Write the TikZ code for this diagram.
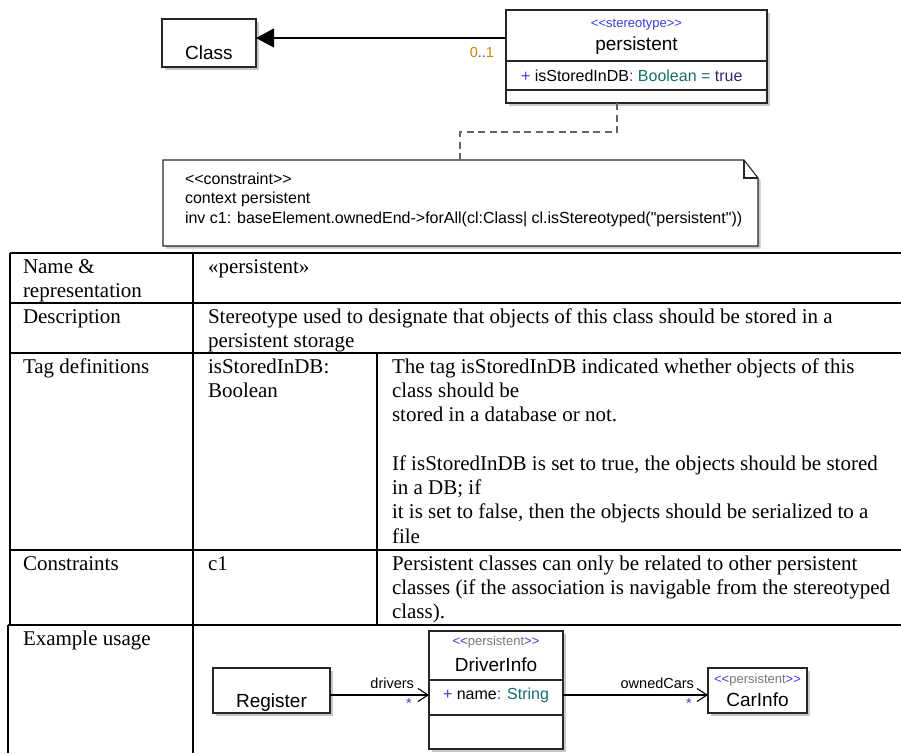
\documentclass[tikz,border=0pt]{standalone}
\usepackage{fontspec}
\setmainfont{Liberation Serif}
\setsansfont{Liberation Sans}
\newfontfamily\notefont{Liberation Sans}[Ligatures=TeXOff]
\usetikzlibrary{arrows.meta,shadows}

\definecolor{stereoblue}{RGB}{60,60,220}
\definecolor{stereogrey}{RGB}{120,120,120}
\definecolor{typeteal}{RGB}{20,110,110}
\definecolor{multorange}{RGB}{200,135,0}
\definecolor{litnavy}{RGB}{45,45,110}
\definecolor{linkgrey}{RGB}{100,100,100}

% stacked lines with a fixed baseline distance; the box baseline is the first line
\newcommand\cellrows[2]{\vtop{\baselineskip=#1\lineskiplimit=-30pt\relax #2}}

\begin{document}
\begin{tikzpicture}[x=1pt,y=-1pt,
  umlbox/.style={draw=black!85, line width=1.1pt, fill=white, inner sep=0pt,
    outer sep=0pt, anchor=north west,
    drop shadow={shadow xshift=2.5pt, shadow yshift=-2.5pt, fill=black!22, opacity=1}},
  boxline/.style={draw=black!85, line width=1.1pt},
  link/.style={draw=black, line width=1.1pt},
  dashlink/.style={draw=linkgrey, line width=1.4pt, dash pattern=on 7pt off 4.5pt},
  gridline/.style={draw=black, line width=1.9pt},
  txt/.style={inner sep=0pt, outer sep=0pt},
  uml/.style={txt, font=\sffamily\fontsize{19}{22}\selectfont},
  umlsmall/.style={txt, font=\sffamily\fontsize{13}{15}\selectfont},
  umlattr/.style={txt, font=\sffamily\fontsize{16}{19}\selectfont},
  umlrole/.style={txt, font=\sffamily\fontsize{14.5}{17}\selectfont},
  cell/.style={txt, anchor=base west, font=\rmfamily\fontsize{21}{24.3}\selectfont},
]
\useasboundingbox (0,0) rectangle (901,753);

% ---------- stereotype definition ----------
\node[umlbox, minimum width=94pt, minimum height=48pt] (cls) at (162,19) {};
\node[uml, anchor=base] (clsname) at (209,59) {Class};

\node[umlbox, minimum width=261pt, minimum height=93pt] (per) at (506,10) {};
\draw[boxline] (506,61) -- (767,61);
\draw[boxline] (506,90) -- (767,90);
\node[umlsmall, anchor=base, text=stereoblue] (perst) at (636.5,27) {<{}<stereotype>{}>};
\node[uml, anchor=base] (pername) at (636.5,50) {persistent};
\node[umlattr, anchor=base west] (perattr) at (521,81)
  {\textcolor{stereoblue}{+} isStoredInDB\textcolor{stereoblue}{:} \textcolor{typeteal}{Boolean =} \textcolor{litnavy}{true}};

\coordinate (assoc) at (400,38);
\draw[link, -{Triangle[length=18pt,width=19pt]}] (per.west |- assoc) -- (cls.east |- assoc);
\node[umlrole, anchor=base east] (mult) at (494,57)
  {\textcolor{multorange}{0}\textcolor{stereoblue}{..}\textcolor{multorange}{1}};

% ---------- constraint note ----------
\node[txt, minimum width=595pt, minimum height=86pt, anchor=north west] (note) at (163,160) {};
\fill[black!22] ([xshift=2.5pt,yshift=-2.5pt]note.north west)
  -- ([xshift=-11.5pt,yshift=-2.5pt]note.north east)
  -- ([xshift=2.5pt,yshift=-20.5pt]note.north east)
  -- ([xshift=2.5pt,yshift=-2.5pt]note.south east)
  -- ([xshift=2.5pt,yshift=-2.5pt]note.south west) -- cycle;
\draw[boxline, fill=white] (note.north west)
  -- ([xshift=-14pt]note.north east)
  -- ([yshift=-18pt]note.north east)
  -- (note.south east) -- (note.south west) -- cycle;
\draw[boxline] ([xshift=-14pt]note.north east) -- ([xshift=-14pt,yshift=-18pt]note.north east)
  -- ([yshift=-18pt]note.north east);
\node[txt, anchor=base west, font=\notefont\fontsize{16}{19.5}\selectfont] (notetext) at (185,184)
  {\cellrows{19.5pt}{%
    \hbox{<<constraint>>}
    \hbox{context persistent}
    \hbox{inv c1: baseElement.ownedEnd->forAll(cl:Class| cl.isStereotyped("persistent"))}}};

\coordinate (bendA) at (617,132);
\coordinate (bendB) at (460,132);
\draw[dashlink] (per.south -| bendA) -- (bendA) -- (bendB) -- (note.north -| bendB);

% ---------- description table ----------
\draw[gridline] (10,253) -- (901,253);
\draw[gridline] (10,303) -- (901,303);
\draw[gridline] (10,353) -- (901,353);
\draw[gridline] (10,550) -- (901,550);
\draw[gridline] (8,625) -- (901,625);
\draw[gridline] (10,253) -- (10,625);
\draw[gridline] (8,625) -- (8,753);
\draw[gridline] (193,253) -- (193,753);
\draw[gridline] (377,353) -- (377,625);

\node[cell] (c11) at (23,273) {\cellrows{24.3pt}{\hbox{Name \&}\hbox{representation}}};
\node[cell] (c12) at (208,273) {«persistent»};
\node[cell] (c21) at (23,323) {Description};
\node[cell] (c22) at (208,323) {\cellrows{24.3pt}{%
  \hbox{Stereotype used to designate that objects of this class should be stored in a}
  \hbox{persistent storage}}};
\node[cell] (c31) at (23,373) {Tag definitions};
\node[cell] (c32) at (208,373) {\cellrows{24.3pt}{\hbox{isStoredInDB:}\hbox{Boolean}}};
\node[cell] (c33) at (392,373) {\cellrows{24.3pt}{%
  \hbox{The tag isStoredInDB indicated whether objects of this}
  \hbox{class should be}
  \hbox{stored in a database or not.}
  \hbox{}
  \hbox{If isStoredInDB is set to true, the objects should be stored}
  \hbox{in a DB; if}
  \hbox{it is set to false, then the objects should be serialized to a}
  \hbox{file}}};
\node[cell] (c41) at (23,570) {Constraints};
\node[cell] (c42) at (208,570) {c1};
\node[cell] (c43) at (392,570) {\cellrows{24.3pt}{%
  \hbox{Persistent classes can only be related to other persistent}
  \hbox{classes (if the association is navigable from the stereotyped}
  \hbox{class).}}};
\node[cell] (c51) at (23,645) {Example usage};

% ---------- example usage ----------
\node[umlbox, minimum width=117pt, minimum height=45pt] (reg) at (213,668) {};
\node[uml, anchor=base] (regname) at (271.5,707) {Register};

\node[umlbox, minimum width=134pt, minimum height=118pt] (drv) at (429,631) {};
\draw[boxline] (429,680) -- (563,680);
\draw[boxline] (429,715) -- (563,715);
\node[umlsmall, anchor=base] (drvst) at (496,645)
  {\textcolor{stereoblue}{<{}<}\textcolor{stereogrey}{persistent}\textcolor{stereoblue}{>{}>}};
\node[uml, anchor=base] (drvname) at (496,671) {DriverInfo};
\node[umlattr, anchor=base west] (drvattr) at (443,699)
  {\textcolor{stereoblue}{+} name\textcolor{stereoblue}{:} \textcolor{typeteal}{String}};

\node[umlbox, minimum width=99pt, minimum height=45pt] (car) at (708,668) {};
\node[umlsmall, anchor=base] (carst) at (757.5,683)
  {\textcolor{stereoblue}{<{}<}\textcolor{stereogrey}{persistent}\textcolor{stereoblue}{>{}>}};
\node[uml, anchor=base] (carname) at (757.5,706) {CarInfo};

\coordinate (exline) at (600,695);
\draw[link, -{Straight Barb[length=10pt,width=13pt]}] (reg.east |- exline) -- (drv.west |- exline);
\draw[link, -{Straight Barb[length=10pt,width=13pt]}] (drv.east |- exline) -- (car.west |- exline);
\node[umlrole, anchor=base east] (drvrole) at (414,688) {drivers};
\node[umlrole, anchor=base, text=stereoblue] (drvmult) at (409,708) {*};
\node[umlrole, anchor=base east] (carrole) at (694,688) {ownedCars};
\node[umlrole, anchor=base, text=stereoblue] (carmult) at (689,708) {*};

\end{tikzpicture}
\end{document}
